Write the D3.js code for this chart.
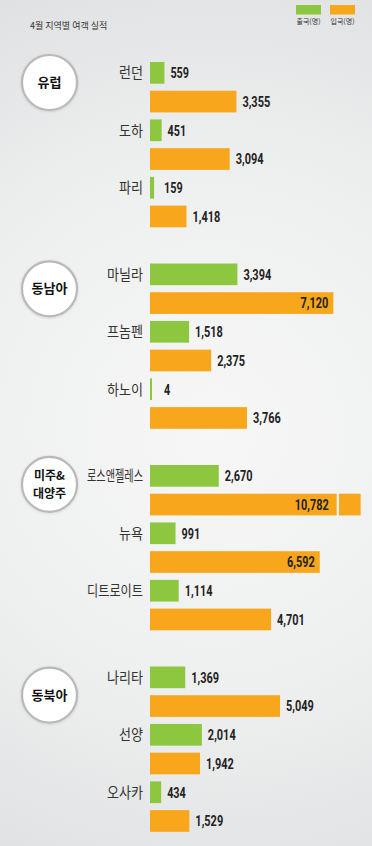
<!DOCTYPE html>
<html>
<head>
<meta charset="utf-8">
<script src="https://cdn.jsdelivr.net/npm/d3@7"></script>
<style>
  html, body { margin: 0; padding: 0; background: #ececec; }
  svg { display: block; }
</style>
</head>
<body>
<div id="chart"></div>
<script>
// data
const title = "4월 지역별 여객 실적";
const seriesNames = ["출국(명)", "입국(명)"];
const regions = ["유럽", "동남아", "미주&\n대양주", "동북아"];
const cities = ["런던", "도하", "파리", "마닐라", "프놈펜", "하노이",
    "로스앤젤레스", "뉴욕", "디트로이트", "나리타", "선양", "오사카"];
const cityRegion = [0, 0, 0, 1, 1, 1, 2, 2, 2, 3, 3, 3];
const departures = [559, 451, 159, 3394, 1518, 4, 2670, 991, 1114, 1369, 2014, 434];
const arrivals = [3355, 3094, 1418, 7120, 2375, 3766, 10782, 6592, 4701, 5049, 1942, 1529];

// layout
var width = 372, height = 846;
const colors = ["#8dc63f", "#f8a61c"];
const badgeDy = [20.5, 25.3, 19.4, 28.6];
const xMax = 8000, breakAt = 7250, capAt = 8180;

const svg = d3.select("#chart").append("svg")
    .attr("width", width)
    .attr("height", height);

// background gradient
const defs = svg.append("defs");
const grad = defs.append("radialGradient")
    .attr("id", "bg")
    .attr("gradientUnits", "userSpaceOnUse")
    .attr("cx", 215).attr("cy", 430).attr("r", 480);
grad.append("stop").attr("offset", 0).attr("stop-color", "#f7f7f7");
grad.append("stop").attr("offset", 0.55).attr("stop-color", "#eeefef");
grad.append("stop").attr("offset", 1).attr("stop-color", "#e0e1e2");
svg.append("rect").attr("width", width).attr("height", height).attr("fill", "url(#bg)");

const shadow = defs.append("filter").attr("id", "sh")
    .attr("x", "-20%").attr("y", "-20%").attr("width", "140%").attr("height", "140%");
shadow.append("feDropShadow").attr("dx", 0).attr("dy", 0.5)
    .attr("stdDeviation", 0.8).attr("flood-color", "#000").attr("flood-opacity", 0.15);

// scales
let x = d3.scaleLinear().domain([0, xMax]).range([150, 356]);
let yGroup = d3.scaleBand().domain(d3.range(regions.length)).range([62, 62 + 4 * 201.5]);
let yRow = d3.scaleBand().domain(d3.range(6)).range([0, 165.3]).paddingInner(0.245);

// rows: one per bar
const rows = [];
cities.forEach((c, i) => {
    const k = i - cityRegion.indexOf(cityRegion[i]);
    rows.push({city: c, region: cityRegion[i], row: 2 * k, value: departures[i], s: 0});
    rows.push({city: c, region: cityRegion[i], row: 2 * k + 1, value: arrivals[i], s: 1});
});
const yOf = d => yGroup(d.region) + yRow(d.row);
const fmt = d3.format(",");

// title
svg.append("text")
    .attr("x", 30).attr("y", 29)
    .style("font-family", "'Noto Sans CJK KR', sans-serif")
    .style("font-size", "9px")
    .attr("fill", "#333")
    .text(title);

// legend
const legend = svg.append("g").selectAll("g")
    .data(seriesNames)
    .join("g")
    .attr("transform", (d, i) => `translate(${296 + i * 34},5)`);
legend.append("rect")
    .attr("width", 25).attr("height", 9.5)
    .attr("fill", (d, i) => colors[i]);
legend.append("text")
    .attr("x", 12.5).attr("y", 19)
    .attr("text-anchor", "middle")
    .style("font-family", "'Noto Sans CJK KR', sans-serif")
    .style("font-size", "7px")
    .attr("fill", "#333")
    .text(d => d);

// region badges
const badge = svg.append("g").selectAll("g")
    .data(regions)
    .join("g")
    .attr("transform", (d, i) => `translate(49.5,${yGroup(i) + badgeDy[i]})`);
badge.append("circle")
    .attr("r", 27.5)
    .attr("fill", "#fff")
    .attr("stroke", "#b9b9b9")
    .attr("stroke-width", 2.2)
    .attr("filter", "url(#sh)");
badge.each(function (d) {
    const lines = d.split("\n");
    d3.select(this).append("text")
        .attr("text-anchor", "middle")
        .style("font-family", "'Noto Sans CJK KR', sans-serif")
        .style("font-size", lines.length > 1 ? "12px" : "13px")
        .style("font-weight", "bold")
        .attr("fill", "#111")
        .selectAll("tspan")
        .data(lines)
        .join("tspan")
        .attr("x", 0)
        .attr("y", (l, i) => 4.5 + (i - (lines.length - 1) / 2) * 17.6)
        .text(l => l);
});

// bars
const bars = svg.append("g");
rows.forEach(d => {
    const y0 = yOf(d);
    if (d.value > xMax) {
        bars.append("rect")
            .attr("x", x(0)).attr("y", y0)
            .attr("width", x(breakAt) - x(0)).attr("height", yRow.bandwidth())
            .attr("fill", colors[d.s]);
        bars.append("rect")
            .attr("x", x(breakAt) + 2.3).attr("y", y0)
            .attr("width", x(capAt) - x(breakAt) - 2.3).attr("height", yRow.bandwidth())
            .attr("fill", colors[d.s]);
    } else {
        bars.append("rect")
            .attr("x", x(0)).attr("y", y0)
            .attr("width", Math.max(x(d.value) - x(0), 2)).attr("height", yRow.bandwidth())
            .attr("fill", colors[d.s]);
    }
});

// value labels (condensed look)
const labelLen = s => s.replace(/,/g, "").length * 6.2 + (s.split(",").length - 1) * 3;
svg.append("g").selectAll("text")
    .data(rows)
    .join("text")
    .attr("x", d => {
        if (d.value > xMax) return x(breakAt) - 8;
        if (d.value > 6000) return x(d.value) - 5;
        return Math.max(x(d.value) + 6, 164);
    })
    .attr("y", d => yOf(d) + yRow.bandwidth() / 2)
    .attr("dy", "0.36em")
    .attr("text-anchor", d => d.value > 6000 ? "end" : "start")
    .style("font-family", "Roboto, 'DejaVu Sans Condensed', sans-serif")
    .style("font-size", "15px")
    .style("font-weight", "bold")
    .attr("fill", "#222")
    .attr("textLength", d => labelLen(fmt(d.value)))
    .attr("lengthAdjust", "spacingAndGlyphs")
    .text(d => fmt(d.value));

// city labels
svg.append("g").selectAll("text")
    .data(rows.filter(d => d.s === 0))
    .join("text")
    .attr("x", 143)
    .attr("y", d => yOf(d) + yRow.bandwidth() / 2)
    .attr("dy", "0.36em")
    .attr("text-anchor", "end")
    .style("font-family", "'Noto Sans CJK KR', sans-serif")
    .style("font-size", "15px")
    .attr("fill", "#333")
    .attr("textLength", d => Math.min(d.city.length * 12, 56))
    .attr("lengthAdjust", "spacingAndGlyphs")
    .text(d => d.city);
</script>
</body>
</html>
